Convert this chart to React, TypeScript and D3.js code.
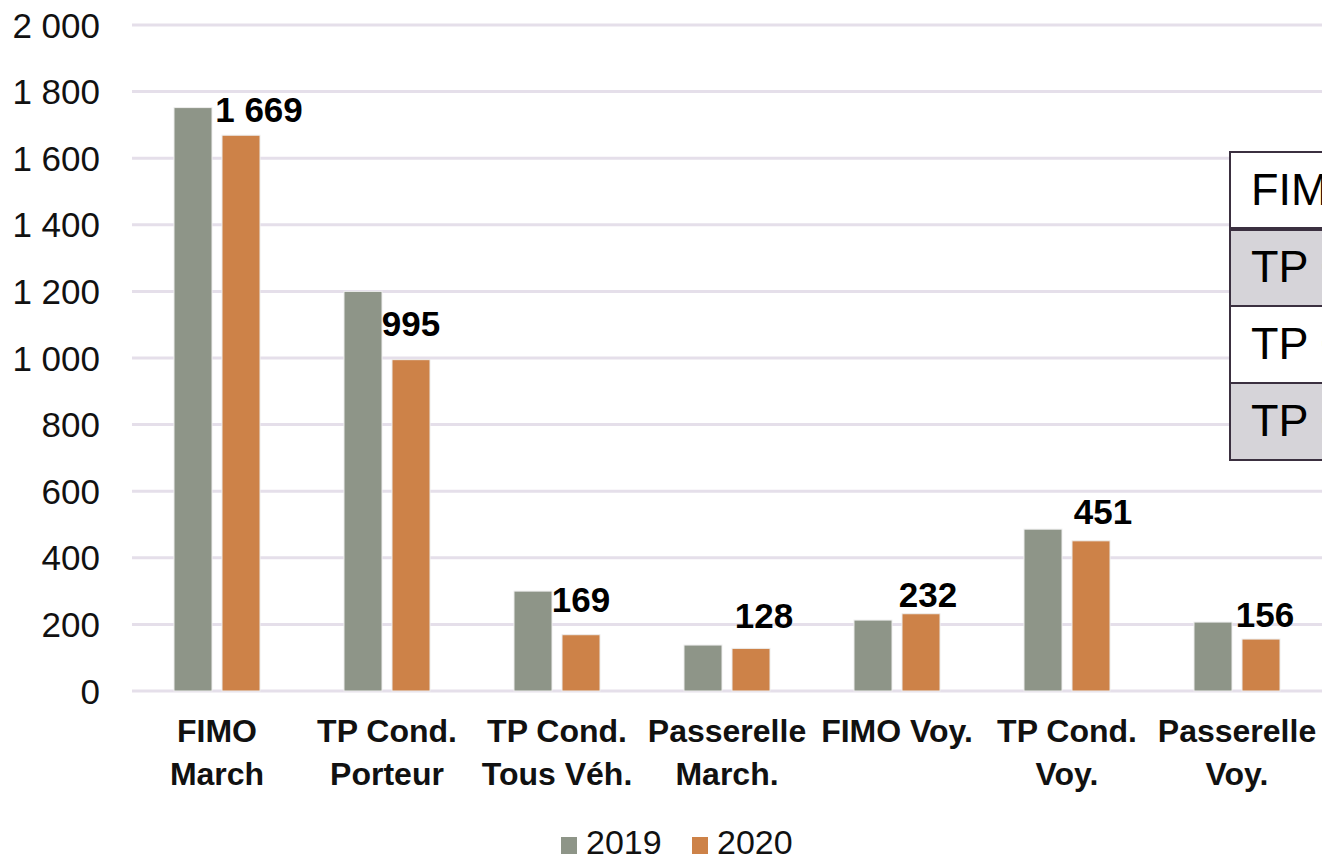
import * as d3 from 'd3';
import React, { useEffect, useRef } from 'react';

const categories = [
    ['FIMO', 'March'],
    ['TP Cond.', 'Porteur'],
    ['TP Cond.', 'Tous Véh.'],
    ['Passerelle', 'March.'],
    ['FIMO Voy.'],
    ['TP Cond.', 'Voy.'],
    ['Passerelle', 'Voy.'],
];
const years = ['2019', '2020'];
const values2019 = [1752, 1200, 300, 138, 213, 486, 207];
const values2020 = [1669, 995, 169, 128, 232, 451, 156];
const yTicks = [0, 200, 400, 600, 800, 1000, 1200, 1400, 1600, 1800, 2000];
const tableRows = ['FIMO March', 'TP Cond. Porteur', 'TP Cond. Tous Véh.', 'TP Cond. Voy.'];

// hand-placed label offsets (px) as in the original
const labelNudge = [
    [18, -13], [0, -24], [0, -23], [13, -20], [7, -7], [12, -17], [4, -12],
];

const colors: Record<string, string> = { '2019': '#8e9588', '2020': '#cd8248' };
const font = "'Liberation Sans', Arial, sans-serif";

const App: React.FC = () => {
    const svgRef = useRef<SVGSVGElement | null>(null);

    useEffect(() => {
        const W = 1322;
        const H = 859;
        const left = 132;
        const top = 25;
        const bottom = 691;

        d3.select(svgRef.current).selectAll('*').remove();
        const svg = d3.select(svgRef.current).attr('width', W).attr('height', H);

        const x0 = d3.scaleBand<number>()
            .domain(d3.range(categories.length))
            .range([left, W])
            .paddingInner(0.494)
            .paddingOuter(0.247);
        const x1 = d3.scaleBand<string>()
            .domain(years)
            .range([0, x0.bandwidth()])
            .paddingInner(0.2083);
        const y = d3.scaleLinear().domain([0, 2000]).range([bottom, top]);
        const fmt = d3.formatLocale({ decimal: ',', thousands: ' ', grouping: [3], currency: ['', ''] }).format(',d');

        // gridlines
        svg.append('g')
            .selectAll('line')
            .data(yTicks)
            .enter()
            .append('line')
            .attr('x1', left)
            .attr('x2', W)
            .attr('y1', d => y(d))
            .attr('y2', d => y(d))
            .attr('stroke', '#e5dfea')
            .attr('stroke-width', 3);

        // y tick labels
        svg.append('g')
            .selectAll('text')
            .data(yTicks)
            .enter()
            .append('text')
            .attr('x', 100)
            .attr('y', d => y(d))
            .attr('dy', '0.36em')
            .attr('text-anchor', 'end')
            .style('font-family', font)
            .style('font-size', '35px')
            .attr('fill', '#111')
            .text(d => fmt(d));

        const series = [values2019, values2020];

        // bars
        const groups = svg.append('g')
            .selectAll('g')
            .data(categories.map((_, i) => i))
            .enter()
            .append('g')
            .attr('transform', i => `translate(${x0(i)},0)`);

        groups.selectAll('rect')
            .data(i => years.map((yr, k) => ({ yr, v: series[k][i] })))
            .enter()
            .append('rect')
            .attr('x', d => x1(d.yr)!)
            .attr('width', x1.bandwidth())
            .attr('y', d => y(d.v))
            .attr('height', d => bottom - y(d.v))
            .attr('fill', d => colors[d.yr])
            .attr('stroke', '#eeeeee')
            .attr('stroke-width', 1);

        // data labels on 2020
        svg.append('g')
            .selectAll('text')
            .data(values2020)
            .enter()
            .append('text')
            .attr('x', (d, i) => x0(i)! + x1('2020')! + x1.bandwidth() / 2 + labelNudge[i][0])
            .attr('y', (d, i) => y(d) + labelNudge[i][1])
            .attr('text-anchor', 'middle')
            .style('font-family', font)
            .style('font-size', '35px')
            .style('font-weight', 'bold')
            .attr('fill', '#000')
            .text(d => fmt(d));

        // category labels
        const cat = svg.append('g')
            .selectAll('text')
            .data(categories)
            .enter()
            .append('text')
            .attr('x', (d, i) => x0(i)! + x0.bandwidth() / 2)
            .attr('y', 742)
            .attr('text-anchor', 'middle')
            .style('font-family', font)
            .style('font-size', '32px')
            .style('font-weight', 'bold')
            .attr('fill', '#111');
        cat.selectAll('tspan')
            .data((d, i) => d.map(t => ({ t, i })))
            .enter()
            .append('tspan')
            .attr('x', d => x0(d.i)! + x0.bandwidth() / 2)
            .attr('dy', (d, k) => (k === 0 ? 0 : 43))
            .text(d => d.t);

        // legend
        const legend = svg.append('g')
            .selectAll('g')
            .data(years)
            .enter()
            .append('g')
            .attr('transform', (d, i) => `translate(${561 + i * 131},837)`);
        legend.append('rect')
            .attr('width', 16)
            .attr('height', 17)
            .attr('fill', d => colors[d]);
        legend.append('text')
            .attr('x', 25)
            .attr('y', 17)
            .style('font-family', font)
            .style('font-size', '34px')
            .attr('fill', '#111')
            .text(d => d);

        // table overlay at right edge (clipped by the frame)
        const rowH = 77;
        const tbl = svg.append('g').attr('transform', 'translate(1230,152)');
        tbl.selectAll('rect')
            .data(tableRows)
            .enter()
            .append('rect')
            .attr('x', 0)
            .attr('y', (d, i) => i * rowH)
            .attr('width', 400)
            .attr('height', rowH)
            .attr('fill', (d, i) => (i % 2 === 1 ? '#d6d4d9' : '#ffffff'))
            .attr('stroke', '#3b3040')
            .attr('stroke-width', 2);
        tbl.append('line')
            .attr('x1', 0)
            .attr('x2', 400)
            .attr('y1', rowH)
            .attr('y2', rowH)
            .attr('stroke', '#3b3040')
            .attr('stroke-width', 4);
        tbl.selectAll('text')
            .data(tableRows)
            .enter()
            .append('text')
            .attr('x', 21)
            .attr('y', (d, i) => i * rowH + 53)
            .style('font-family', font)
            .style('font-size', '45px')
            .attr('fill', '#000')
            .text(d => d);
    }, []);

    return <svg ref={svgRef} style={{ position: 'absolute', left: 0, top: 0, background: '#fff' }}></svg>;
};

export default App;
